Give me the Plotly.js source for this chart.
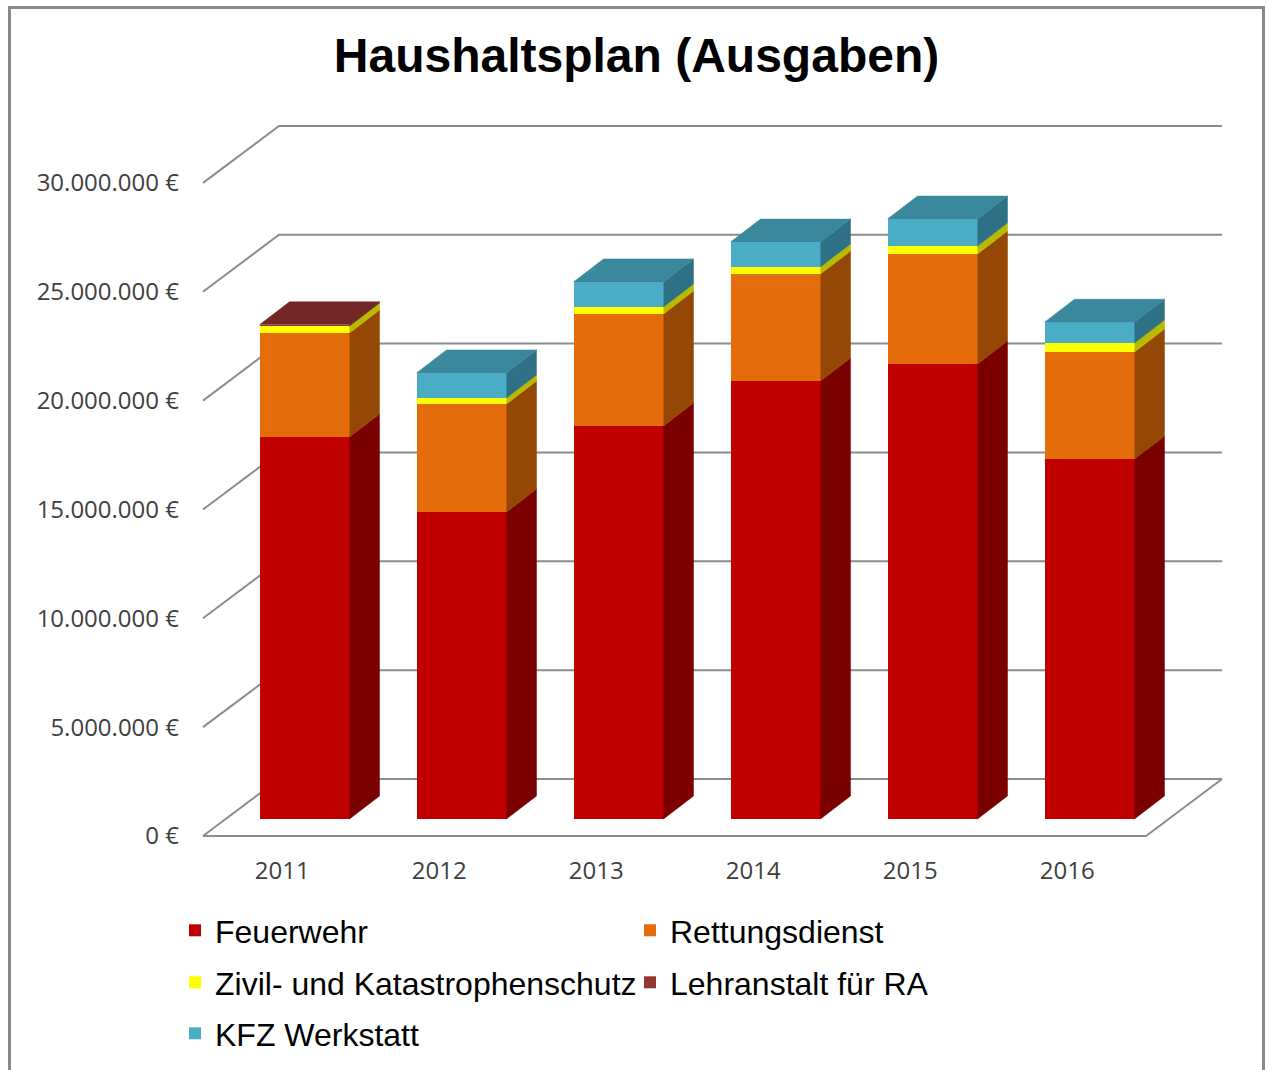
<!DOCTYPE html>
<html>
<head>
<meta charset="utf-8">
<script src="https://cdn.plot.ly/plotly-3.0.1.min.js"></script>
<style>
  html, body { margin: 0; padding: 0; background: #fff; overflow: hidden; }
  #chart { width: 1266px; height: 1070px; }
  #frame { position: absolute; left: 8px; top: 6px; width: 1257px; height: 1100px;
           border: 3px solid #8a8a8a; pointer-events: none; box-sizing: border-box; }
</style>
</head>
<body>
<div id="chart"></div>
<div id="frame"></div>
<script>
// ---------------- data ----------------
const years = ['2011', '2012', '2013', '2014', '2015', '2016'];
const feuerwehr      = [17550000, 14100000, 18050000, 20120000, 20900000, 16540000];
const rettungsdienst = [4770000, 4960000, 5150000, 4910000, 5050000, 4910000];
const zivilschutz    = [330000, 280000, 320000, 330000, 370000, 410000];
const lehranstalt    = [50000, 0, 0, 0, 0, 0];
const kfzWerkstatt   = [0, 1150000, 1150000, 1140000, 1240000, 960000];
const seriesNames = ['Feuerwehr', 'Rettungsdienst', 'Zivil- und Katastrophenschutz', 'Lehranstalt für RA', 'KFZ Werkstatt'];
const yTickVals = [0, 5000000, 10000000, 15000000, 20000000, 25000000, 30000000];
const yTickText = ['0 €', '5.000.000 €', '10.000.000 €', '15.000.000 €', '20.000.000 €', '25.000.000 €', '30.000.000 €'];

// ---------------- styles / geometry ----------------
const seriesValues = [feuerwehr, rettungsdienst, zivilschutz, lehranstalt, kfzWerkstatt];
const frontColors = ['#c00000', '#e46c0a', '#ffff00', '#953735', '#4bacc6'];
const sideColors  = ['#7b0000', '#954706', '#b9b900', '#5e1f1e', '#2f7184'];
const topColors   = ['#a00000', '#c05a08', '#d8d800', '#712726', '#3a889c'];
const legendIds   = ['legend', 'legend', 'legend2', 'legend2', 'legend3'];

const PXX = 157;            // px per category
const PXY = 21.77 / 1e6;    // px per euro
const ux = p => p / PXX;
const uy = p => p / PXY;

const W = 1266, H = 1070;
const mL = 188, mR = 26, mT = 100, mB = 222;
const x0pix = 282.2, y0pix = 836;
const xRange = [ux(mL - x0pix), ux(W - mR - x0pix)];
const yRange = [uy(y0pix - (H - mB)), uy(y0pix - mT)];

const barOffX = ux(22.3), barW = ux(90), barOffY = uy(17);
const bdx = ux(30), bdy = uy(23);
const fxL = ux(203 - x0pix), fxR = ux(1146 - x0pix), wdx = ux(76), wdy = uy(57);

// ---------------- gridlines (walls / floor) ----------------
const shapes = [];
yTickVals.forEach(v => {
  shapes.push({type: 'path', xref: 'x', yref: 'y', layer: 'below',
    path: `M${fxL},${v} L${fxL + wdx},${v + wdy} L${fxR + wdx},${v + wdy}`,
    line: {color: '#8c8c8c', width: 2}});
});
shapes.push({type: 'path', xref: 'x', yref: 'y', layer: 'below',
  path: `M${fxL},0 L${fxR},0 L${fxR + wdx},${wdy}`,
  line: {color: '#8c8c8c', width: 2}});

// ---------------- bars ----------------
const xs = years.map((_, i) => i + barOffX);
const bases = seriesValues.map(() => []);
const tops = years.map(() => -1);
years.forEach((_, i) => {
  let acc = barOffY;
  seriesValues.forEach((vals, s) => {
    bases[s][i] = acc;
    acc += vals[i];
    if (vals[i] > 0) tops[i] = s;
  });
});

const traces = [];
seriesValues.forEach((vals, s) => {
  traces.push({
    type: 'bar', name: seriesNames[s], x: xs, y: vals, base: bases[s],
    width: years.map(() => barW), legend: legendIds[s],
    marker: {color: frontColors[s], line: {width: 0}},
    hoverinfo: 'skip'
  });
});

// side faces
seriesValues.forEach((vals, s) => {
  const px = [], py = [];
  years.forEach((_, i) => {
    if (vals[i] <= 0) return;
    const xr = xs[i] + barW / 2, b = bases[s][i], t = b + vals[i];
    px.push(xr, xr + bdx, xr + bdx, xr, null);
    py.push(b, b + bdy, t + bdy, t, null);
  });
  traces.push({type: 'scatter', mode: 'lines', x: px, y: py, fill: 'toself',
    fillcolor: sideColors[s], line: {width: 0.5, color: sideColors[s]},
    showlegend: false, hoverinfo: 'skip'});
});

// top faces
seriesValues.forEach((vals, s) => {
  const px = [], py = [];
  years.forEach((_, i) => {
    if (tops[i] !== s) return;
    const xl = xs[i] - barW / 2, xr = xs[i] + barW / 2, T = bases[s][i] + vals[i];
    px.push(xl, xl + bdx, xr + bdx, xr, null);
    py.push(T, T + bdy, T + bdy, T, null);
  });
  if (px.length) traces.push({type: 'scatter', mode: 'lines', x: px, y: py, fill: 'toself',
    fillcolor: topColors[s], line: {width: 0.5, color: topColors[s]},
    showlegend: false, hoverinfo: 'skip'});
});

const legendFont = {family: '"Liberation Sans", Arial, sans-serif', size: 32, color: '#000'};
const mkLegend = topPx => ({
  orientation: 'h', x: 175 / W, xref: 'container', xanchor: 'left',
  y: 1 - topPx / H, yref: 'container', yanchor: 'top',
  entrywidth: 410, entrywidthmode: 'pixels', traceorder: 'normal',
  font: legendFont, bgcolor: 'rgba(0,0,0,0)', borderwidth: 0
});

const tickFont = {family: '"Open Sans", sans-serif', size: 24, color: '#404040'};

const layout = {
  width: W, height: H,
  margin: {l: mL, r: mR, t: mT, b: mB, pad: 0},
  paper_bgcolor: '#ffffff', plot_bgcolor: 'rgba(0,0,0,0)',
  barmode: 'overlay', bargap: 0, hovermode: false,
  title: {text: 'Haushaltsplan (Ausgaben)', x: 636.5 / W, xref: 'container', xanchor: 'center',
          y: 1 - 55 / H, yref: 'container', yanchor: 'middle',
          font: {family: '"Liberation Sans", Arial, sans-serif', size: 48, color: '#000', weight: 'bold'}},
  xaxis: {range: xRange, showgrid: false, zeroline: false, showline: false,
          tickmode: 'array', tickvals: years.map((_, i) => i), ticktext: years,
          ticks: '', ticklabelstandoff: 6, tickfont: tickFont},
  yaxis: {range: yRange, showgrid: false, zeroline: false, showline: false,
          tickmode: 'array', tickvals: yTickVals, ticktext: yTickText,
          ticks: '', ticklabelstandoff: 8, tickfont: tickFont},
  shapes: shapes,
  showlegend: true,
  legend: mkLegend(903),
  legend2: mkLegend(955),
  legend3: mkLegend(1006)
};

Plotly.newPlot('chart', traces, layout, {displayModeBar: false, staticPlot: true});
</script>
</body>
</html>
